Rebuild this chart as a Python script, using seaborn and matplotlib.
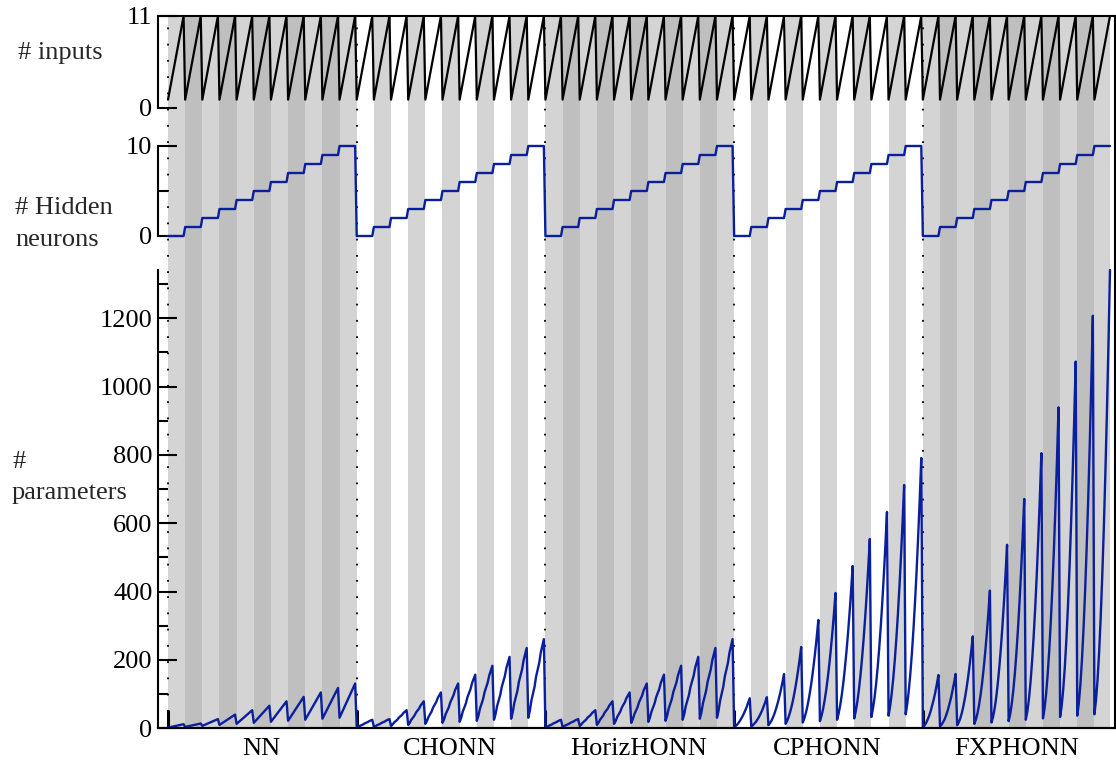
import matplotlib
matplotlib.use("Agg")
import matplotlib.pyplot as plt
import seaborn as sns
import pandas as pd
from matplotlib.transforms import blended_transform_factory

# ---------------- data ----------------
groups = ["NN", "CHONN", "HorizHONN", "CPHONN", "FXPHONN"]
hidden_neurons = [0, 1, 2, 3, 4, 5, 6, 7, 8, 9, 10]
inputs = [1, 2, 3, 4, 5, 6, 7, 8, 9, 10, 11]

# number of parameters: one row per hidden-neuron count, one column per input count
params_nn = [
    [2, 3, 4, 5, 6, 7, 8, 9, 10, 11, 12],
    [4, 5, 6, 7, 8, 9, 10, 11, 12, 13, 14],
    [7, 9, 11, 13, 15, 17, 19, 21, 23, 25, 27],
    [10, 13, 16, 19, 22, 25, 28, 31, 34, 37, 40],
    [13, 17, 21, 25, 29, 33, 37, 41, 45, 49, 53],
    [16, 21, 26, 31, 36, 41, 46, 51, 56, 61, 66],
    [19, 25, 31, 37, 43, 49, 55, 61, 67, 73, 79],
    [22, 29, 36, 43, 50, 57, 64, 71, 78, 85, 92],
    [25, 33, 41, 49, 57, 65, 73, 81, 89, 97, 105],
    [28, 37, 46, 55, 64, 73, 82, 91, 100, 109, 118],
    [31, 41, 51, 61, 71, 81, 91, 101, 111, 121, 131],
]
params_chonn = [
    [2, 4, 7, 9, 11, 14, 16, 18, 21, 23, 25],
    [4, 6, 9, 11, 13, 16, 18, 20, 23, 25, 27],
    [7, 11, 17, 21, 25, 31, 35, 39, 45, 49, 53],
    [10, 16, 25, 31, 37, 46, 52, 58, 67, 73, 79],
    [13, 21, 33, 41, 49, 61, 69, 77, 89, 97, 105],
    [16, 26, 41, 51, 61, 76, 86, 96, 111, 121, 131],
    [19, 31, 49, 61, 73, 91, 103, 115, 133, 145, 157],
    [22, 36, 57, 71, 85, 106, 120, 134, 155, 169, 183],
    [25, 41, 65, 81, 97, 121, 137, 153, 177, 193, 209],
    [28, 46, 73, 91, 109, 136, 154, 172, 199, 217, 235],
    [31, 51, 81, 101, 121, 151, 171, 191, 221, 241, 261],
]
params_horiz = [
    [2, 4, 7, 9, 11, 14, 16, 18, 21, 23, 25],
    [4, 6, 9, 11, 13, 16, 18, 20, 23, 25, 27],
    [7, 11, 17, 21, 25, 31, 35, 39, 45, 49, 53],
    [10, 16, 25, 31, 37, 46, 52, 58, 67, 73, 79],
    [13, 21, 33, 41, 49, 61, 69, 77, 89, 97, 105],
    [16, 26, 41, 51, 61, 76, 86, 96, 111, 121, 131],
    [19, 31, 49, 61, 73, 91, 103, 115, 133, 145, 157],
    [22, 36, 57, 71, 85, 106, 120, 134, 155, 169, 183],
    [25, 41, 65, 81, 97, 121, 137, 153, 177, 193, 209],
    [28, 46, 73, 91, 109, 136, 154, 172, 199, 217, 235],
    [31, 51, 81, 101, 121, 151, 171, 191, 221, 241, 261],
]
params_cp = [
    [3, 7, 11, 17, 24, 32, 41, 51, 62, 75, 88],
    [6, 9, 14, 19, 26, 34, 43, 53, 65, 77, 91],
    [9, 15, 23, 33, 45, 59, 75, 93, 113, 135, 159],
    [13, 22, 34, 49, 67, 88, 112, 139, 169, 202, 238],
    [17, 29, 45, 65, 89, 117, 149, 185, 225, 269, 317],
    [21, 36, 56, 81, 111, 146, 186, 231, 281, 336, 396],
    [25, 43, 67, 97, 133, 175, 223, 277, 337, 403, 475],
    [29, 50, 78, 113, 155, 204, 260, 323, 393, 470, 554],
    [33, 57, 89, 129, 177, 233, 297, 369, 449, 537, 633],
    [37, 64, 100, 145, 199, 262, 334, 415, 505, 604, 712],
    [41, 71, 111, 161, 221, 291, 371, 461, 561, 671, 791],
]
params_fxp = [
    [4, 8, 15, 25, 36, 50, 67, 85, 106, 130, 156],
    [6, 11, 18, 27, 39, 53, 70, 88, 110, 133, 159],
    [9, 17, 29, 45, 65, 89, 117, 149, 185, 225, 269],
    [13, 25, 43, 67, 97, 133, 175, 223, 277, 337, 403],
    [17, 33, 57, 89, 129, 177, 233, 297, 369, 449, 537],
    [21, 41, 71, 111, 161, 221, 291, 371, 461, 561, 671],
    [25, 49, 85, 133, 193, 265, 349, 445, 553, 673, 805],
    [29, 57, 99, 155, 225, 309, 407, 519, 645, 785, 939],
    [33, 65, 113, 177, 257, 353, 465, 593, 737, 897, 1073],
    [37, 73, 127, 199, 289, 397, 523, 667, 829, 1009, 1207],
    [41, 81, 141, 221, 321, 441, 581, 741, 921, 1121, 1341],
]
param_tables = [params_nn, params_chonn, params_horiz, params_cp, params_fxp]

# ---------------- long table ----------------
rows = []
for g, name in enumerate(groups):
    table = param_tables[g]
    for hi, h in enumerate(hidden_neurons):
        for ki, n in enumerate(inputs):
            rows.append({"idx": len(rows), "group": name, "g": g,
                         "hidden": h, "inputs": n, "params": table[hi][ki]})
df = pd.DataFrame(rows)
xmax = df["idx"].max()

# ---------------- style ----------------
sns.set_theme(style="white")
plt.rcParams["font.family"] = ["Liberation Serif", "DejaVu Serif"]
plt.rcParams["axes.linewidth"] = 1.5
FS = 19
BLUE = "#0a1f9c"
LIGHT = "#d4d4d4"
DARK = "#bfbfbf"
DOT = (0, (1, 8))

W, H = 1116, 764
fig = plt.figure(figsize=(W / 100, H / 100), dpi=100)


def box(left, top, right, bottom):
    return [left / W, 1 - bottom / H, (right - left) / W, (bottom - top) / H]


scale = (1110 - 168) / xmax
xlim = (-(168 - 158) / scale, xmax + (1115 - 1110) / scale)

bg = fig.add_axes(box(158, 16, 1115, 728.3))
ax1 = fig.add_axes(box(158, 16, 1115, 108))
ax2 = fig.add_axes(box(158, 146, 1115, 236))
ax3 = fig.add_axes(box(158, 270, 1115, 728.3))

# background bands
bg.set_xlim(*xlim)
bg.set_ylim(0, 1)
bg.set_xticks([])
bg.set_yticks([])
bg.set_facecolor("white")
bg.spines["left"].set_visible(False)
for s in ["top", "right", "bottom"]:
    bg.spines[s].set_color("black")
    bg.spines[s].set_linewidth(1.5)

band_starts = df[df["inputs"] == inputs[0]][["idx", "g", "hidden"]]
for _, r in band_starts.iterrows():
    x0 = r["idx"]
    x1 = min(x0 + len(inputs), xmax)
    hpos = hidden_neurons.index(r["hidden"])
    if r["g"] % 2 == 0:
        c = LIGHT if hpos % 2 == 0 else DARK
    else:
        c = "white" if hpos % 2 == 0 else LIGHT
    bg.axvspan(x0, x1, color=c, lw=0, zorder=1)

group_starts = df.groupby("g")["idx"].min().tolist()
group_ends = df.groupby("g")["idx"].max().tolist()
group_centers = [(a + b) / 2 for a, b in zip(group_starts, group_ends)]

for xs in group_starts:
    bg.axvline(xs, color="black", ls=DOT, lw=1.3, zorder=2)

# horizontal dotted grid (under bands)
grid_spec = [(ax1, [0]), (ax2, [0, 10]), (ax3, [200, 400, 600, 800, 1000, 1200])]
for ax, vals in grid_spec:
    tr = blended_transform_factory(bg.transData, ax.transData)
    for v in vals:
        bg.plot([0, xmax], [v, v], transform=tr, color="black", ls=DOT,
                lw=1.3, zorder=0.5)

# ---------------- lines ----------------
sns.lineplot(data=df, x="idx", y="inputs", ax=ax1, color="black", lw=1.6,
             estimator=None, sort=False, clip_on=False)
sns.lineplot(data=df, x="idx", y="hidden", ax=ax2, color=BLUE, lw=1.7,
             estimator=None, sort=False, clip_on=False)
sns.lineplot(data=df, x="idx", y="params", ax=ax3, color=BLUE, lw=1.7,
             estimator=None, sort=False, clip_on=False)

for ax in (ax1, ax2, ax3):
    ax.set_facecolor("none")
    ax.set_xlim(*xlim)
    ax.set_xlabel("")
    ax.set_ylabel("")
    for s in ["top", "right", "bottom"]:
        ax.spines[s].set_visible(False)
    ax.spines["left"].set_color("black")
    ax.spines["left"].set_linewidth(1.5)
    ax.tick_params(axis="y", which="major", direction="in", length=13.5,
                   width=1.5, pad=4, labelsize=FS, left=True, colors="black")
    ax.tick_params(axis="y", which="minor", direction="in", length=7,
                   width=1.5, left=True, colors="black")

ax1.set_ylim(0, 11)
ax1.set_yticks([0, 11])
ax2.set_ylim(0, 10)
ax2.set_yticks([0, 10])
ax2.set_yticks([5], minor=True)
ax3.set_ylim(0, 1341)
ax3.set_yticks([0, 200, 400, 600, 800, 1000, 1200])
ax3.set_yticks([100, 300, 500, 700, 900, 1100, 1300], minor=True)

for ax in (ax1, ax2):
    ax.set_xticks([])
    ax.tick_params(axis="x", which="both", bottom=False, labelbottom=False)

ax3.spines["bottom"].set_visible(True)
ax3.spines["bottom"].set_linewidth(1.5)
ax3.spines["bottom"].set_color("black")
ax3.set_xticks(group_starts)
ax3.set_xticklabels([""] * len(group_starts))
ax3.set_xticks(group_centers, minor=True)
ax3.set_xticklabels(groups, minor=True)
ax3.tick_params(axis="x", which="major", direction="in", length=13,
                width=2.2, bottom=True, colors="black")
ax3.tick_params(axis="x", which="minor", length=0, pad=7, labelsize=FS,
                bottom=True, colors="black")

# axis titles
fig.text(18 / W, 1 - 53 / H, "# inputs", ha="left", va="center", fontsize=FS)
fig.text(15 / W, 1 - 208 / H, "# Hidden", ha="left", va="center", fontsize=FS)
fig.text(15 / W, 1 - 240 / H, "neurons", ha="left", va="center", fontsize=FS)
fig.text(12 / W, 1 - 462 / H, "#", ha="left", va="center", fontsize=FS)
fig.text(12 / W, 1 - 493 / H, "parameters", ha="left", va="center", fontsize=FS)

fig.savefig("out.png", dpi=100)
